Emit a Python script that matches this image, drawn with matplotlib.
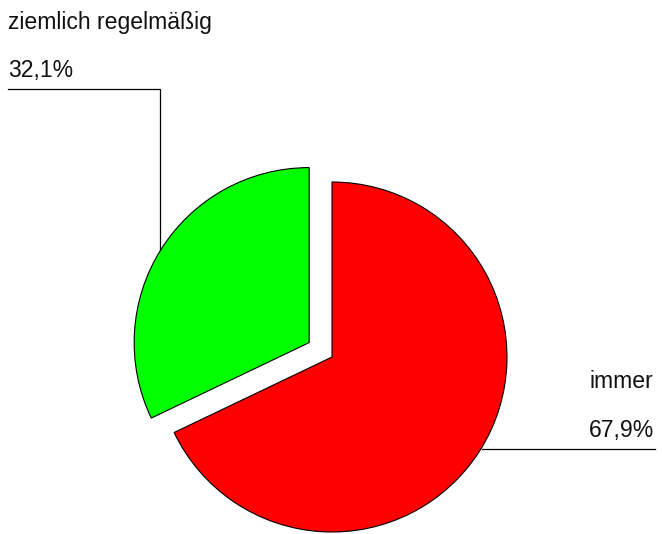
import matplotlib.pyplot as plt

labels = ["immer", "ziemlich regelmäßig"]
values = [67.9, 32.1]
pct_labels = ["67,9%", "32,1%"]
colors = ["#FF0000", "#00FF00"]

W, H = 662, 534
fig = plt.figure(figsize=(W / 100, H / 100), dpi=100)
ax = fig.add_axes([0, 0, 1, 1])
ax.axis("off")

# pixel coords are top-down, data coords bottom-up
def py(y):
    return H - y

ax.pie(values, colors=colors, startangle=90, counterclock=False,
       center=(332, py(357)), radius=175, explode=[0, 27],
       wedgeprops=dict(edgecolor="black", linewidth=0.8))
ax.set_xlim(0, W)
ax.set_ylim(0, H)
ax.set_aspect("equal")

font = dict(family="Liberation Sans", fontsize=16.6, color="#111111")

# ziemlich regelmäßig label + leader
ax.text(8, py(23), labels[1], ha="left", va="center", **font)
ax.text(8, py(71), pct_labels[1], ha="left", va="center", **font)
ax.plot([8, 160, 160], [py(89), py(89), py(250)], color="black", lw=0.9)

# immer label + leader
ax.text(653, py(382), labels[0], ha="right", va="center", **font)
ax.text(654, py(430), pct_labels[0], ha="right", va="center", **font)
ax.plot([482, 655], [py(449), py(449)], color="black", lw=0.9)

fig.savefig("out.png", dpi=100)
